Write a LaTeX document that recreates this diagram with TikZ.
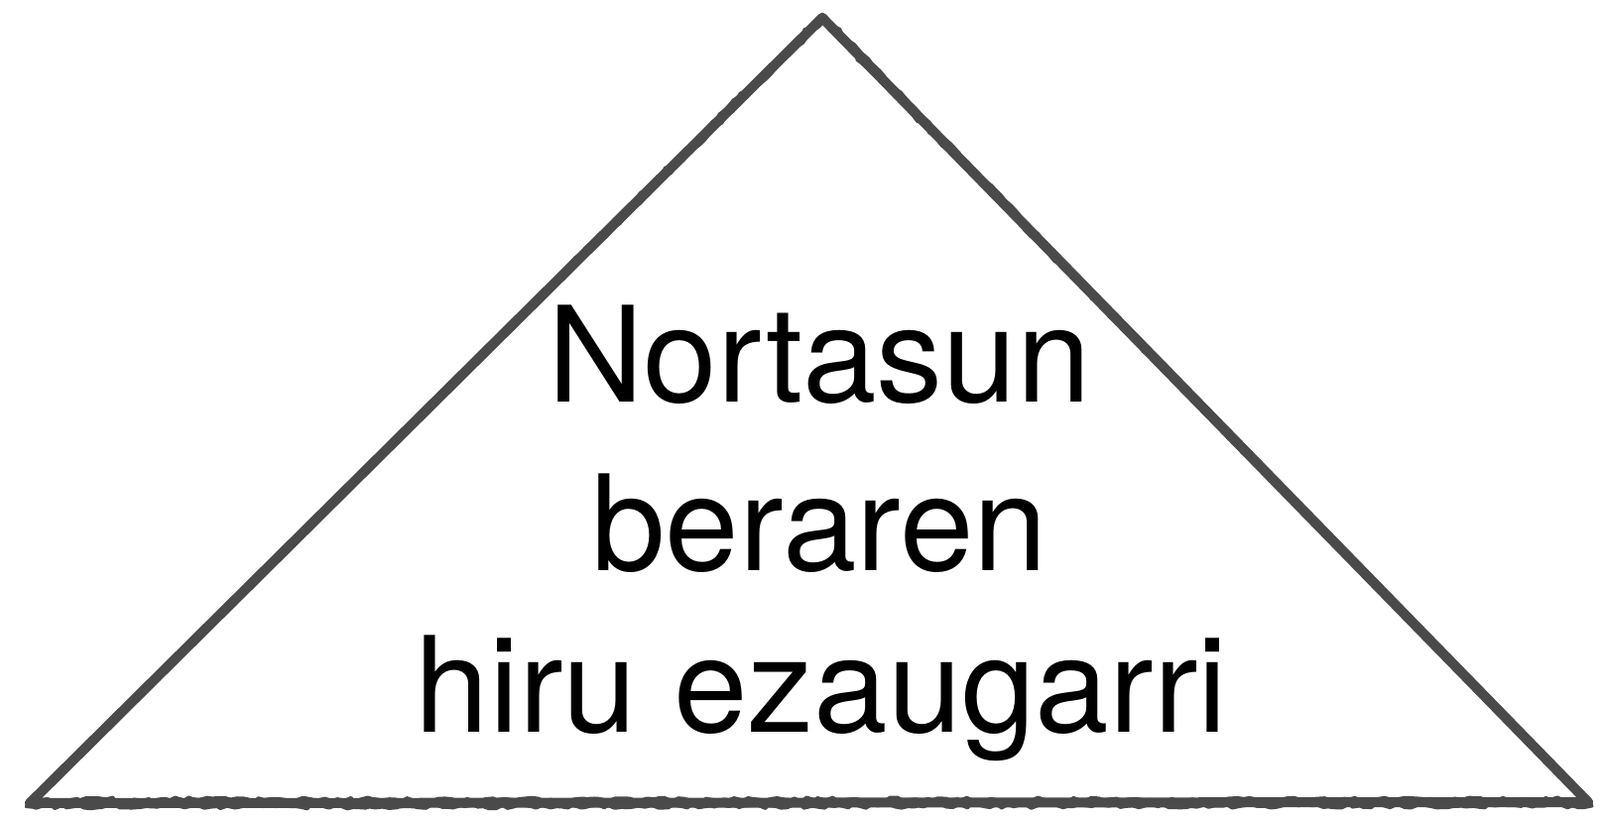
\documentclass[tikz,border=0pt]{standalone}
\usepackage{fontspec}
\setmainfont{TeX Gyre Heros}
\usetikzlibrary{decorations.pathmorphing}
\definecolor{chalk}{HTML}{4A4A4A}
\tikzset{
  sketch/.style={draw=chalk, line width=10pt, line join=round, line cap=round},
  rough/.style={draw=chalk, line width=3pt, line join=round, line cap=round,
    decorate, decoration={random steps, segment length=6pt, amplitude=2pt}},
  label/.style={font=\fontsize{134}{160}\selectfont, text=black, anchor=base, inner sep=0pt}
}
\begin{document}
\begin{tikzpicture}[x=1pt,y=1pt]
\useasboundingbox (0,0) rectangle (1613,824);
\fill[white] (0,0) rectangle (1613,824);
\coordinate (apex) at (829,806);
\coordinate (bl) at (30,14);
\coordinate (br) at (1601,15);
\draw[sketch] (apex) -- (bl) -- (br) -- cycle;
\draw[rough] ([shift={(0,4)}]apex) -- ([shift={(-4,-4)}]bl) -- ([shift={(4,-4)}]br) -- cycle;
\draw[rough] ([shift={(0,-4)}]apex) -- ([shift={(4,4)}]bl) -- ([shift={(-4,3)}]br) -- cycle;
\node[label] (l1) at (826,418) {Nortasun};
\node[label] (l2) at (826,248) {beraren};
\node[label] (l3) at (828,85) {hiru ezaugarri};
\end{tikzpicture}
\end{document}
